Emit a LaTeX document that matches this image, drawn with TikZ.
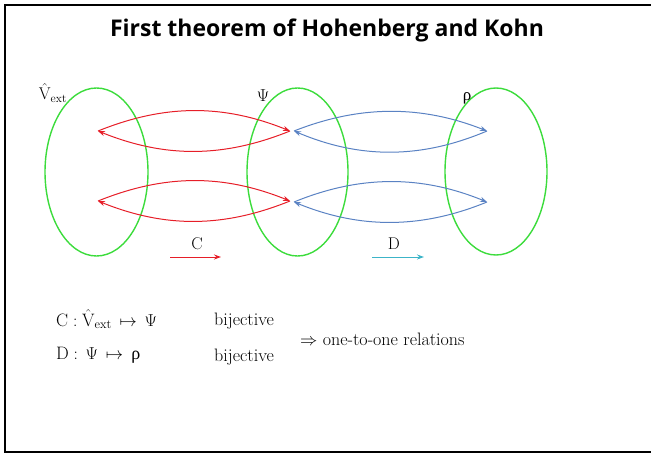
\documentclass[tikz,border=0pt]{standalone}
\usepackage{fontspec}
\usetikzlibrary{arrows.meta,shapes.geometric}
\newfontfamily\titlefont{Open Sans}
\newfontfamily\greekserif{Liberation Serif}
\definecolor{ellgreen}{RGB}{60,220,60}
\definecolor{arrred}{RGB}{230,30,40}
\definecolor{arrblue}{RGB}{90,130,195}
\definecolor{arrcyan}{RGB}{60,180,200}
\tikzset{
  setell/.style={draw=ellgreen, line width=1.4pt},
  redarr/.style={draw=arrred, line width=1pt, -{Stealth[length=7pt,width=5pt]}},
  bluearr/.style={draw=arrblue, line width=1pt, -{Stealth[length=7pt,width=5pt]}},
  lbl/.style={inner sep=0pt, font=\fontsize{17}{20}\selectfont},
  txt/.style={inner sep=0pt, anchor=west, font=\fontsize{18}{21}\selectfont}
}
\begin{document}
\begin{tikzpicture}[x=1pt,y=-1pt]
\useasboundingbox (0,0) rectangle (651,455);
% frame (right side lies outside the picture)
\draw[line width=1.6pt, black] (652,5) -- (5,5) -- (5,452) -- (652,452);
% title
\node[inner sep=0pt, font=\titlefont\bfseries\fontsize{23}{27}\selectfont] (title) at (327,30) {First theorem of Hohenberg and Kohn};
% ellipses
\node[setell, ellipse, minimum width=103pt, minimum height=168pt, inner sep=0pt] (E1) at (96.5,172) {};
\node[setell, ellipse, minimum width=101pt, minimum height=168pt, inner sep=0pt] (E2) at (297.5,172) {};
\node[setell, ellipse, minimum width=102pt, minimum height=167pt, inner sep=0pt] (E3) at (496,171.5) {};
% set labels
\node[lbl] (lV) at (53,93) {$\hat{\mathrm{V}}_{\mathrm{ext}}$};
\node[lbl] (lPsi) at (263,96) {$\Psi$};
\node[lbl] (lrho) at (467,98) {{\greekserif ρ}};
% tips
\coordinate (a1) at (98,131);
\coordinate (b1) at (290,131);
\coordinate (a2) at (98,201);
\coordinate (b2) at (290,201);
\coordinate (c1) at (294,131);
\coordinate (d1) at (487,131);
\coordinate (c2) at (294,202);
\coordinate (d2) at (487,202);
% red arrows
\draw[redarr] (a1) .. controls (165,104) and (223,104) .. (b1);
\draw[redarr] (b1) .. controls (223,158) and (165,158) .. (a1);
\draw[redarr] (a2) .. controls (165,174) and (223,174) .. (b2);
\draw[redarr] (b2) .. controls (223,228) and (165,228) .. (a2);
% blue arrows
\draw[bluearr] (c1) .. controls (360,105) and (421,105) .. (d1);
\draw[bluearr] (d1) .. controls (421,159) and (360,159) .. (c1);
\draw[bluearr] (c2) .. controls (360,175) and (421,175) .. (d2);
\draw[bluearr] (d2) .. controls (421,229) and (360,229) .. (c2);
% legend arrows
\node[lbl] (lC) at (197,244) {C};
\coordinate (C0) at (170,257);
\coordinate (C1) at (221,257);
\draw[redarr] (C0) -- (C1);
\node[lbl] (lD) at (394,244) {D};
\coordinate (D0) at (372,257);
\coordinate (D1) at (424,257);
\draw[draw=arrcyan, line width=1pt, -{Stealth[length=7pt,width=5pt]}] (D0) -- (D1);
% bottom text
\node[txt] (f1) at (56,319) {$\mathrm{C}:\hat{\mathrm{V}}_{\mathrm{ext}}\,\mapsto\,\Psi$};
\node[txt] (b1t) at (214,321) {bijective};
\node[txt] (f2) at (56,355) {$\mathrm{D}:\,\Psi\,\mapsto\,$ {\greekserif ρ}};
\node[txt] (b2t) at (214,357) {bijective};
\node[txt] (res) at (300,339) {$\Rightarrow$ one-to-one relations};
\end{tikzpicture}
\end{document}
